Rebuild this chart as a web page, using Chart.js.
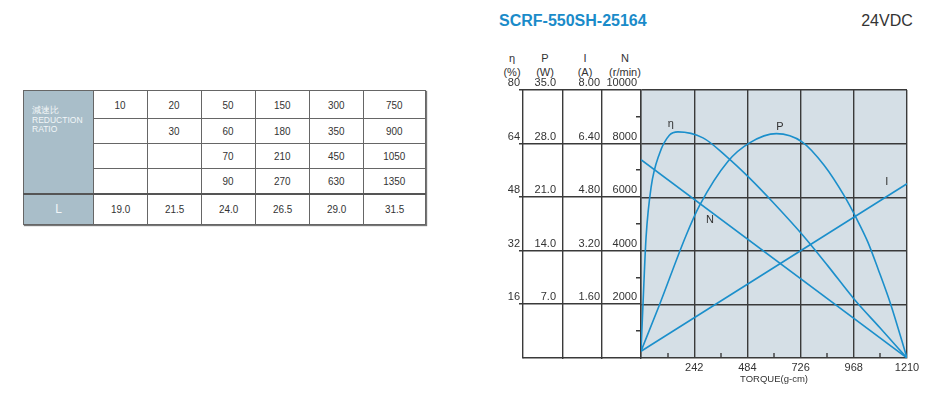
<!DOCTYPE html>
<html>
<head>
<meta charset="utf-8">
<script src="https://cdn.jsdelivr.net/npm/chart.js@4"></script>
<style>
body{margin:0;background:#fff;font-family:"Liberation Sans",Arial,sans-serif;}
#page{position:relative;width:930px;height:399px;overflow:hidden;}
.t{position:absolute;white-space:nowrap;color:#333;font-size:11px;line-height:11px;transform:translate(-50%,-50%);}
#title{color:#1a8bc9;font-weight:bold;font-size:16px;line-height:16px;transform:translate(0,-50%);}
#volt{font-size:16px;line-height:16px;}
#wrap{position:absolute;left:490px;top:0;width:440px;height:399px;}
#ratio{position:absolute;left:23px;top:90px;border-collapse:collapse;table-layout:fixed;width:402px;
  box-shadow:1px 1px 1px #777;border:1.5px solid #444;}
#ratio td{border:1px solid #666;padding:0;text-align:center;vertical-align:middle;color:#333;font-size:11px;}
#ratio td span{display:inline-block;transform:scaleX(0.9);}
#ratio td.hd{background:#a9bec9;color:#f2f6f8;text-align:left;vertical-align:top;font-size:8.5px;line-height:9.5px;padding:15px 0 0 8px;}
#ratio td.hl{background:#a9bec9;color:#f2f6f8;font-size:12px;}
#ratio tr.last td{border-top:2px solid #555;}
</style>
</head>
<body>
<div id="page">
  <div class="t" id="title" style="left:499px;top:21px;">SCRF-550SH-25164</div>
  <div class="t" id="volt" style="left:887px;top:21px;">24VDC</div>

  <div class="t" style="left:512px;top:58px;">η</div>
  <div class="t" style="left:512px;top:72px;">(%)</div>
  <div class="t" style="left:545px;top:58px;">P</div>
  <div class="t" style="left:545px;top:72px;">(W)</div>
  <div class="t" style="left:585px;top:58px;">I</div>
  <div class="t" style="left:585px;top:72px;">(A)</div>
  <div class="t" style="left:625px;top:58px;">N</div>
  <div class="t" style="left:625px;top:72px;">(r/min)</div>

  <table id="ratio"></table>

  <div id="wrap"><canvas id="motorChart" width="440" height="399"></canvas></div>
</div>

<script>
// reduction ratio table
var ratioRows = [
    [10, 20, 50, 150, 300, 750],
    ['', 30, 60, 180, 350, 900],
    ['', '', 70, 210, 450, 1050],
    ['', '', 90, 270, 630, 1350]
];
var lengthL = ['19.0', '21.5', '24.0', '26.5', '29.0', '31.5'];

// curves (torque in g-cm)
var etaTorque = [0, 11, 23, 46, 84, 129, 168, 282, 388, 494, 600, 734, 850, 968, 1090, 1210];
var etaValues = [2, 19, 36, 51, 61, 66.5, 67.5, 65.7, 60.2, 53.7, 46.5, 36.8, 27.5, 17.7, 8.8, 0];

var powerTorque = [0, 82, 205, 266, 396, 494, 616, 734, 832, 924, 977, 1031, 1080, 1136, 1210];
var powerValues = [0.9, 6.8, 16.0, 19.9, 25.7, 28.1, 29.3, 28.2, 25.2, 21.2, 18.4, 15.2, 11.5, 7.0, 0];

var currentTorque = [0, 1210];
var currentValues = [0.2, 5.2];

var speedTorque = [0, 1210];
var speedValues = [7400, 0];

// labelled ticks
var etaMajor = [16, 32, 48, 64, 80];
var torqueMajor = [242, 484, 726, 968, 1210];

var blue = '#1b8fcb';
var lineCol = '#3a3a3a';
var lw = 1.4;
var clear = 'rgba(0,0,0,0)';
var tickFont = {size: 11, family: '"Liberation Sans", Arial, sans-serif'};

// build table
var tbl = document.getElementById('ratio');
var colW = [70, 54, 54, 54, 54, 54, 62];
var html = '<colgroup>';
colW.forEach(function(w){ html += '<col style="width:' + w + 'px">'; });
html += '</colgroup>';
var rowH = [28, 25, 25, 25];
ratioRows.forEach(function(row, i){
    html += '<tr style="height:' + rowH[i] + 'px">';
    if (i == 0) html += '<td class="hd" rowspan="4">減速比<br>REDUCTION<br>RATIO</td>';
    row.forEach(function(v){ html += '<td><span>' + v + '</span></td>'; });
    html += '</tr>';
});
html += '<tr class="last" style="height:31px"><td class="hl">L</td>';
lengthL.forEach(function(v){ html += '<td><span>' + v + '</span></td>'; });
html += '</tr>';
tbl.innerHTML = html;

function pts(xs, ys)
{
    var out = [];
    for (var i = 0; i < xs.length; i++) out.push({x: xs[i], y: ys[i]});
    return out;
}

function curve(label, xs, ys, axis)
{
    return {
        label: label,
        data: pts(xs, ys),
        yAxisID: axis,
        borderColor: blue,
        borderWidth: 1.6,
        pointRadius: 0,
        fill: false,
        cubicInterpolationMode: 'monotone'
    };
}

// one column of the left scale block
function leftAxis(max, step, width, labelGap, weight, fmt)
{
    return {
        type: 'linear',
        position: 'left',
        weight: weight,
        min: 0,
        max: max,
        afterFit: function(s){ s.width = width; },
        ticks: {
            stepSize: step,
            autoSkip: false,
            padding: labelGap,
            labelOffset: -7,
            color: '#333',
            font: tickFont,
            callback: fmt
        },
        grid: {display: false, drawOnChartArea: false, drawTicks: false},
        border: {display: true, color: lineCol, width: lw}
    };
}

var etaAxis = {
    type: 'linear',
    position: 'left',
    weight: 4,
    min: 0,
    max: 80,
    afterFit: function(s){ s.width = 33; },
    ticks: {
        stepSize: 8,
        autoSkip: false,
        padding: 3,
        labelOffset: -7,
        color: '#333',
        font: tickFont,
        callback: function(v){ return etaMajor.indexOf(v) >= 0 ? v : ''; }
    },
    grid: {
        display: true,
        drawOnChartArea: true,
        drawTicks: false,
        lineWidth: lw,
        color: function(c){ return (c.tick && etaMajor.indexOf(c.tick.value) >= 0) ? lineCol : clear; }
    },
    border: {display: true, color: lineCol, width: lw}
};

// plot background, rules through the scale columns, short marks, curve names
var decor = {
    id: 'decor',
    beforeDraw: function(chart)
    {
        var a = chart.chartArea, ctx = chart.ctx;
        ctx.save();
        ctx.fillStyle = '#d5dfe6';
        ctx.fillRect(a.left, a.top, a.right - a.left, a.bottom - a.top);
        ctx.restore();
    },
    afterDraw: function(chart)
    {
        var a = chart.chartArea, ctx = chart.ctx;
        var ys = chart.scales.y, xs = chart.scales.x;
        var colLeft = chart.scales.y.right;
        ctx.save();
        ctx.fillStyle = lineCol;
        ys.ticks.forEach(function(t){
            var py = Math.round(ys.getPixelForValue(t.value));
            if (t.value === 0) ctx.fillRect(colLeft, py - 1, a.left - colLeft, 1.5);
            else if (etaMajor.indexOf(t.value) >= 0) ctx.fillRect(colLeft - 4, py - 1, a.left - colLeft + 4, 1.5);
            else ctx.fillRect(a.left - 5, py - 1, 5, 1.5);
        });
        xs.ticks.forEach(function(t){
            if (torqueMajor.indexOf(t.value) < 0 && t.value) {
                var px = Math.round(xs.getPixelForValue(t.value));
                ctx.fillRect(px - 0.7, a.bottom - 5, 1.4, 5);
            }
        });
        ctx.fillStyle = '#333';
        ctx.font = '11px "Liberation Sans", Arial, sans-serif';
        ctx.textAlign = 'center';
        ctx.textBaseline = 'middle';
        ctx.fillText('η', xs.getPixelForValue(136), ys.getPixelForValue(70));
        ctx.fillText('P', xs.getPixelForValue(632), ys.getPixelForValue(69));
        ctx.fillText('N', xs.getPixelForValue(314), ys.getPixelForValue(41.2));
        ctx.fillText('I', xs.getPixelForValue(1118), ys.getPixelForValue(52.6));
        ctx.restore();
    }
};

var chart = new Chart(document.getElementById('motorChart'), {
    type: 'line',
    data: {
        datasets: [
            curve('η', etaTorque, etaValues, 'y'),
            curve('P', powerTorque, powerValues, 'yP'),
            curve('I', currentTorque, currentValues, 'yI'),
            curve('N', speedTorque, speedValues, 'yN')
        ]
    },
    options: {
        responsive: false,
        animation: false,
        layout: {padding: {left: 0, top: 90, right: 23, bottom: 0}},
        plugins: {legend: {display: false}, tooltip: {enabled: false}},
        scales: {
            x: {
                type: 'linear',
                min: 0,
                max: 1210,
                afterFit: function(s){ s.height = 41; },
                ticks: {
                    stepSize: 121,
                    autoSkip: false,
                    maxRotation: 0,
                    padding: 3,
                    color: '#333',
                    font: tickFont,
                    callback: function(v){ return torqueMajor.indexOf(v) >= 0 ? v : ''; }
                },
                grid: {
                    drawTicks: false,
                    lineWidth: lw,
                    color: function(c){ return (c.tick && c.tick.value % 242 === 0) ? lineCol : clear; }
                },
                border: {display: true, color: lineCol, width: lw},
                title: {
                    display: true,
                    text: 'TORQUE(g-cm)',
                    color: '#333',
                    font: {size: 9.5, family: '"Liberation Sans", Arial, sans-serif'},
                    padding: {top: 0, bottom: 14}
                }
            },
            y: etaAxis,
            yP: leftAxis(35, 7, 40, 7, 3, function(v){ return v ? v.toFixed(1) : ''; }),
            yI: leftAxis(8, 1.6, 39, 2, 2, function(v){ return v ? v.toFixed(2) : ''; }),
            yN: leftAxis(10000, 2000, 39, 4, 1, function(v){ return v ? v : ''; })
        }
    },
    plugins: [decor]
});
</script>
</body>
</html>
